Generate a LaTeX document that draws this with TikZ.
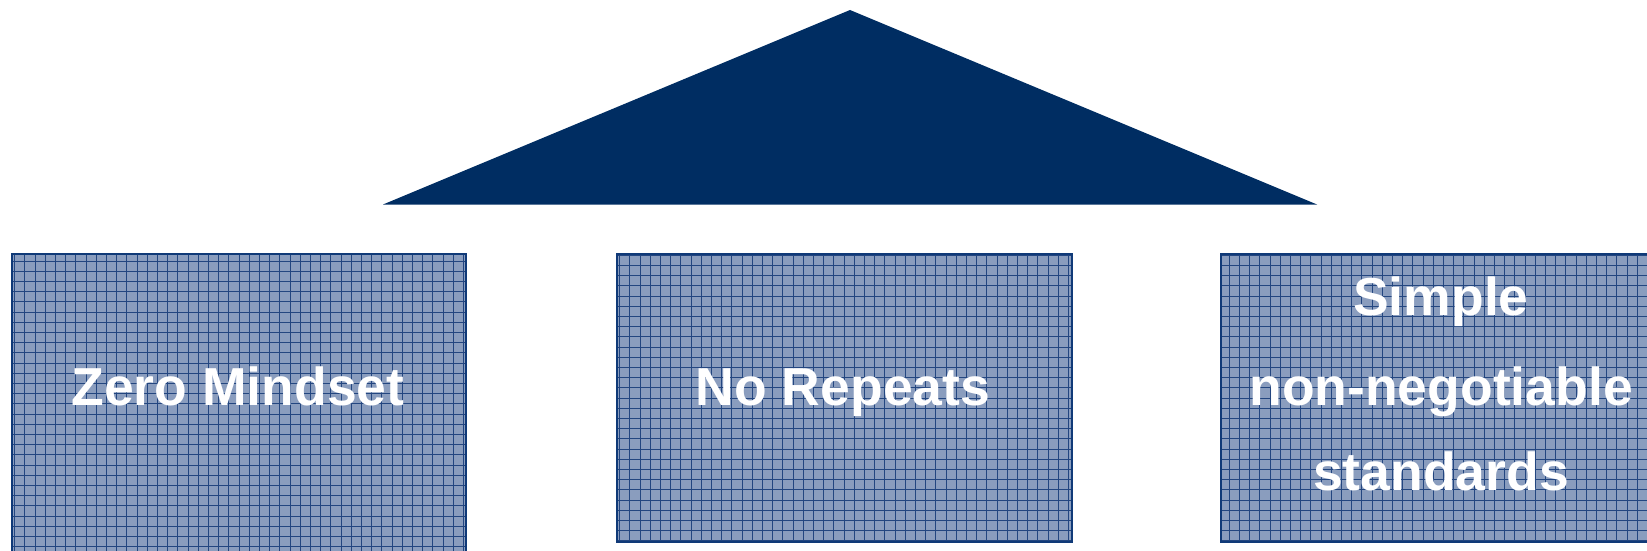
\documentclass[tikz,border=0pt]{standalone}
\usepackage{fontspec}
\setmainfont{Liberation Sans}
\definecolor{roofblue}{RGB}{0,45,98}
\definecolor{boxfill}{RGB}{138,157,190}
\definecolor{gridblue}{RGB}{35,70,128}
\definecolor{boxedge}{RGB}{16,58,120}
\tikzset{
  pillar/.style={draw=boxedge, line width=2pt, fill=boxfill, anchor=north west, inner sep=0pt,
    path picture={\draw[gridblue, line width=1pt]
      (path picture bounding box.south west) grid[step=10.2pt] (path picture bounding box.north east);}},
  label/.style={text=white, font=\fontsize{53.5}{62}\selectfont\bfseries, anchor=base, inner sep=0pt},
}
\begin{document}
\begin{tikzpicture}[x=1pt,y=-1pt]
\useasboundingbox (0,0) rectangle (1647,551);
\fill[roofblue] (850,10) -- (1317,204.5) -- (383,204.5) -- cycle;
\node[pillar, minimum width=454pt, minimum height=320pt] (b1) at (11,253) {};
\node[pillar, minimum width=455pt, minimum height=288pt] (b2) at (615.5,253) {};
\node[pillar, minimum width=445pt, minimum height=288pt] (b3) at (1220,253) {};
\node[label] (t1) at (238,405) {Zero Mindset};
\node[label] (t2) at (843,405) {No Repeats};
\node[label] (t3a) at (1441,315) {Simple};
\node[label] (t3b) at (1441,405) {non-negotiable};
\node[label] (t3c) at (1441,490) {standards};
\end{tikzpicture}
\end{document}
